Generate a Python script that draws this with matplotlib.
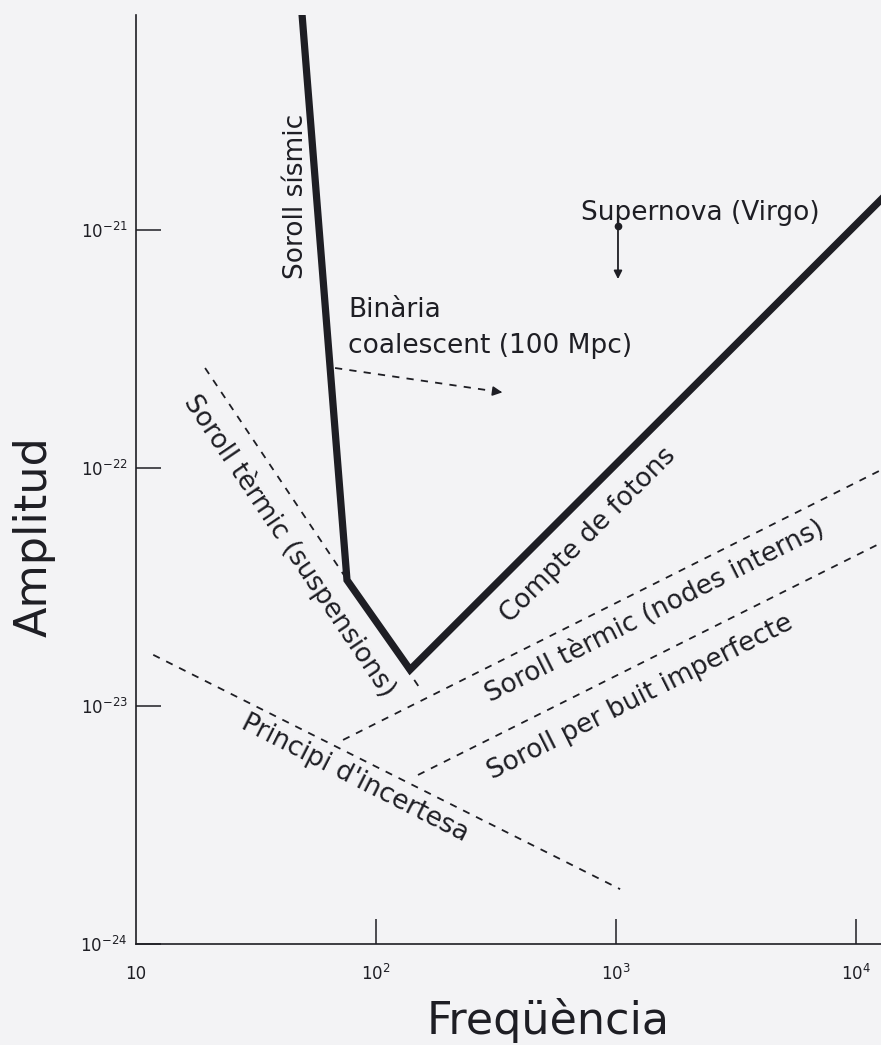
import numpy as np
from matplotlib import pyplot as plt

plt.rcParams['font.family'] = 'DejaVu Sans'

# ------ data (Hz, strain amplitude) ------
sens_freq = [49.2, 75.7, 138.6, 12700]
sens_amp = [8.0e-21, 3.38e-23, 1.42e-23, 1.34e-21]

susp_freq = [19.4, 155.5]
susp_amp = [2.63e-22, 1.15e-23]

nodes_freq = [72.9, 12700]
nodes_amp = [7.2e-24, 9.8e-23]

buit_freq = [149.6, 12700]
buit_amp = [5.13e-24, 4.84e-23]

incert_freq = [11.8, 1040]
incert_amp = [1.64e-23, 1.70e-24]

binary_freq = [67.5, 344.7]
binary_amp = [2.63e-22, 2.07e-22]

snova_freq = 1019
snova_amp = [1.04e-21, 6.05e-22]

xticks = [1e2, 1e3, 1e4]
xticklabels = ['$10^2$', '$10^3$', '$10^4$']
yticks = [1e-24, 1e-23, 1e-22, 1e-21]
yticklabels = ['$10^{-24}$', '$10^{-23}$', '$10^{-22}$', '$10^{-21}$']

bg = '#f3f3f5'
ink = '#1e1e24'

fig = plt.figure(figsize=(8.81, 10.45), dpi=100, facecolor=bg)
ax = fig.add_axes([136/881, 101/1045, 1 - 136/881, (944-15)/1045])
ax.set_facecolor(bg)
ax.set_xscale('log')
ax.set_yscale('log')
ax.set_xlim(10, 10**4.104)
ax.set_ylim(1e-24, 10**-20.097)

for s in ['top', 'right']:
    ax.spines[s].set_visible(False)
for s in ['left', 'bottom']:
    ax.spines[s].set_linewidth(1.2)
    ax.spines[s].set_color(ink)

ax.set_xticks(xticks)
ax.set_xticklabels(xticklabels)
ax.set_yticks(yticks)
ax.set_yticklabels(yticklabels)
ax.minorticks_off()
ax.tick_params(axis='both', direction='in', length=18, width=1.1, color=ink,
               labelsize=12, labelcolor=ink)
ax.tick_params(axis='x', pad=14)
ax.tick_params(axis='y', pad=6)
# label "10" at the left end of the x axis
ax.text(10, 10**-24.09, '10', ha='center', va='top', fontsize=12, color=ink)

# ------ curves ------
ax.plot(sens_freq, sens_amp, color=ink, lw=5.2, solid_joinstyle='miter')
dash = dict(color=ink, lw=1.3, ls=(0, (4, 4)))
ax.plot(susp_freq, susp_amp, **dash)
ax.plot(nodes_freq, nodes_amp, **dash)
ax.plot(buit_freq, buit_amp, **dash)
ax.plot(incert_freq, incert_amp, **dash)
ax.plot(binary_freq, binary_amp, **dash)
ax.annotate('', xy=(binary_freq[1], binary_amp[1]),
            xytext=(binary_freq[1] * 0.93, binary_amp[1] * 1.01),
            arrowprops=dict(arrowstyle='-|>', color=ink, lw=1.2, mutation_scale=14))

ax.plot([snova_freq], [snova_amp[0]], 'o', color=ink, ms=4.5)
ax.annotate('', xy=(snova_freq, snova_amp[1]), xytext=(snova_freq, snova_amp[0]),
            arrowprops=dict(arrowstyle='-|>', color=ink, lw=1.3, mutation_scale=12))

# ------ labels ------
lab = dict(fontsize=19, color=ink, ha='center', va='center', rotation_mode='anchor')
ax.text(46.4, 1.38e-21, 'Soroll sísmic', rotation=90, **lab)
ax.text(2239, 1.18e-21, 'Supernova (Virgo)', **lab)
ax.text(76.4, 4.61e-22, 'Binària', fontsize=19, color=ink, ha='left', va='center')
ax.text(76.4, 3.26e-22, 'coalescent (100 Mpc)', fontsize=19, color=ink, ha='left', va='center')
ax.text(43.8, 4.74e-23, 'Soroll tèrmic (suspensions)', rotation=-56, **lab)
ax.text(764, 5.22e-23, 'Compte de fotons', rotation=45, **lab)
ax.text(1454, 2.48e-23, 'Soroll tèrmic (nodes interns)', rotation=26.7, **lab)
ax.text(1259, 1.09e-23, 'Soroll per buit imperfecte', rotation=26.7, **lab)
ax.text(81.8, 4.97e-24, "Principi d'incertesa", rotation=-27, **lab)

fig.text(47/881, 1 - 537/1045, 'Amplitud', rotation=90, fontsize=32, color=ink,
         ha='center', va='baseline', rotation_mode='anchor')
fig.text(548/881, 1 - 1034/1045, 'Freqüència', fontsize=32, color=ink,
         ha='center', va='baseline')

plt.savefig('out.png', dpi=100, facecolor=bg)
